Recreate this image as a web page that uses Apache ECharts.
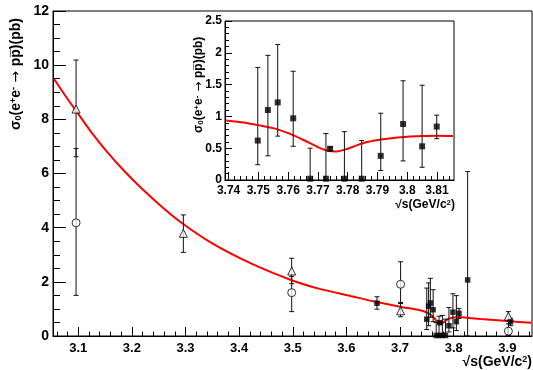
<!DOCTYPE html>
<html>
<head>
<meta charset="utf-8">
<script src="https://cdn.jsdelivr.net/npm/echarts@6/dist/echarts.min.js"></script>
<style>
  html, body { margin: 0; padding: 0; background: #fff; }
  #chart { width: 533px; height: 370px; }
</style>
</head>
<body>
<div id="chart"></div>
<script>
// open triangles (main plot)
const triX = [3.096, 3.296, 3.498, 3.701, 3.902];
const triY = [8.38, 3.79, 2.40, 0.93, 0.73];
const triLo = [6.62, 3.09, 1.93, 0.71, 0.55];
const triHi = [10.19, 4.47, 2.87, 1.24, 0.90];

// open circles (main plot)
const circX = [3.096, 3.498, 3.701, 3.902];
const circY = [4.18, 1.60, 1.91, 0.18];
const circLo = [1.50, 0.90, 1.20, 0.02];
const circHi = [6.92, 2.20, 2.74, 0.45];

// filled squares near psi(3770) (inset and main)
const sqX = [3.7498, 3.7532, 3.7565, 3.7617, 3.7674, 3.7727, 3.7741, 3.7789, 3.7847, 3.7911, 3.7986, 3.8050, 3.8099];
const sqY = [0.62, 1.10, 1.22, 0.97, 0.02, 0.02, 0.49, 0.02, 0.02, 0.38, 0.88, 0.53, 0.84];
const sqLo = [0.24, 0.38, 0.69, 0.53, 0.00, 0.00, 0.46, 0.00, 0.00, 0.15, 0.30, 0.20, 0.65];
const sqHi = [1.77, 1.96, 2.13, 1.71, 0.50, 0.73, 0.52, 0.76, 0.62, 1.05, 1.56, 1.49, 1.02];

// filled squares only in the main plot
const sqExtraX = [3.657, 3.826, 3.906];
const sqExtraY = [1.21, 2.07, 0.52];
const sqExtraLo = [0.99, 0.00, 0.38];
const sqExtraHi = [1.45, 6.07, 0.66];

// fit curve, main plot
const curveX = [3.055, 3.075, 3.100, 3.125, 3.153, 3.185, 3.215, 3.252, 3.290, 3.350, 3.420, 3.498, 3.550, 3.607, 3.650, 3.700, 3.739, 3.750, 3.760, 3.770, 3.776, 3.780, 3.790, 3.800, 3.810, 3.816, 3.850, 3.900, 3.945];
const curveY = [9.49, 8.90, 8.20, 7.51, 6.82, 6.11, 5.51, 4.84, 4.22, 3.42, 2.70, 2.06, 1.74, 1.48, 1.28, 1.08, 0.94, 0.86, 0.74, 0.52, 0.45, 0.49, 0.63, 0.68, 0.70, 0.69, 0.63, 0.55, 0.49];

// fit curve, inset
const insetCurveX = [3.7392, 3.745, 3.750, 3.755, 3.760, 3.765, 3.770, 3.773, 3.7763, 3.7796, 3.783, 3.7869, 3.7908, 3.7953, 3.800, 3.805, 3.810, 3.8154];
const insetCurveY = [0.936, 0.905, 0.863, 0.816, 0.737, 0.633, 0.518, 0.465, 0.450, 0.486, 0.544, 0.600, 0.633, 0.659, 0.680, 0.690, 0.696, 0.690];

// axis ticks
const mainXTicks = [3.1, 3.2, 3.3, 3.4, 3.5, 3.6, 3.7, 3.8, 3.9];
const insetXTicks = [3.74, 3.75, 3.76, 3.77, 3.78, 3.79, 3.80, 3.81];

const FONT = 'Liberation Sans, Arial, sans-serif';

function minorTicks(lo, hi, step, majors) {
  const out = [];
  for (let v = Math.ceil(lo / step - 1e-9) * step; v <= hi + 1e-9; v += step) {
    const r = Math.round(v * 10000) / 10000;
    if (!majors.some(m => Math.abs(m - r) < 1e-6)) out.push(r);
  }
  return out;
}

const zip3 = (a, b, c) => a.map((v, i) => [v, b[i], c[i]]);
const zip2 = (a, b) => a.map((v, i) => [v, b[i]]);

function errRender(params, api) {
  const x = api.value(0);
  const top = api.coord([x, api.value(2)]);
  const bot = api.coord([x, api.value(1)]);
  const w = 2.5;
  const st = { stroke: '#111', lineWidth: 1 };
  return {
    type: 'group',
    children: [
      { type: 'line', shape: { x1: top[0], y1: top[1], x2: bot[0], y2: bot[1] }, style: st },
      { type: 'line', shape: { x1: top[0] - w, y1: top[1], x2: top[0] + w, y2: top[1] }, style: st },
      { type: 'line', shape: { x1: bot[0] - w, y1: bot[1], x2: bot[0] + w, y2: bot[1] }, style: st }
    ]
  };
}

function errSeries(xi, yi, data) {
  return {
    type: 'custom', xAxisIndex: xi, yAxisIndex: yi, renderItem: errRender,
    data: data, encode: { x: 0, y: [1, 2] }, z: 3, silent: true, clip: false
  };
}

const labelBold = (size) => ({ color: '#000', fontWeight: 'bold', fontSize: size, fontFamily: FONT });

const chart = echarts.init(document.getElementById('chart'), null, { renderer: 'canvas' });

const titleRich = (size, sm) => ({
  b: { fontSize: size, fontWeight: 'bold', fontFamily: FONT, color: '#000' },
  sub: { fontSize: sm, fontWeight: 'bold', fontFamily: FONT, color: '#000', verticalAlign: 'bottom' },
  sup: { fontSize: sm, fontWeight: 'bold', fontFamily: FONT, color: '#000', verticalAlign: 'top' },
  n: { fontSize: size, fontFamily: 'DejaVu Sans', color: '#000' }
});

const yTitle = '{b|σ}{sub|0}{b|(e}{sup|+}{b|e}{sup|-}{n| → }{b|pp\u0305)(pb)}';
const xTitle = '{b|√s(GeV/c}{sup|2}{b|)}';

const option = {
  animation: false,
  backgroundColor: '#fff',
  grid: [
    { left: 53, right: 1, top: 11, bottom: 34, show: true, borderColor: '#000', borderWidth: 1 },
    { left: 225, width: 229, top: 21, height: 159, show: true, borderColor: '#000', borderWidth: 1 }
  ],
  xAxis: [
    {
      gridIndex: 0, type: 'value', position: 'bottom', min: 3.053, max: 3.946,
      axisLine: { lineStyle: { color: '#000' } },
      axisTick: { inside: true, length: 9, customValues: mainXTicks, lineStyle: { color: '#000' } },
      axisLabel: Object.assign({ customValues: mainXTicks, margin: 6, formatter: v => v.toFixed(1) }, labelBold(13)),
      splitLine: { show: false }
    },
    {
      gridIndex: 0, type: 'value', position: 'bottom', min: 3.053, max: 3.946,
      axisLine: { show: false },
      axisTick: { inside: true, length: 4.5, customValues: minorTicks(3.053, 3.946, 0.02, mainXTicks), lineStyle: { color: '#000' } },
      axisLabel: { show: false },
      splitLine: { show: false }
    },
    {
      gridIndex: 1, type: 'value', position: 'bottom', min: 3.7388, max: 3.8157,
      axisLine: { lineStyle: { color: '#000' } },
      axisTick: { inside: true, length: 8, customValues: insetXTicks, lineStyle: { color: '#000' } },
      axisLabel: Object.assign({ customValues: insetXTicks, margin: 5, formatter: v => String(parseFloat(v.toFixed(2))) }, labelBold(12)),
      splitLine: { show: false }
    },
    {
      gridIndex: 1, type: 'value', position: 'bottom', min: 3.7388, max: 3.8157,
      axisLine: { show: false },
      axisTick: { inside: true, length: 4, customValues: minorTicks(3.7388, 3.8157, 0.002, insetXTicks), lineStyle: { color: '#000' } },
      axisLabel: { show: false },
      splitLine: { show: false }
    }
  ],
  yAxis: [
    {
      gridIndex: 0, type: 'value', min: 0, max: 12, interval: 2,
      axisLine: { lineStyle: { color: '#000' } },
      axisTick: { inside: true, length: 13, lineStyle: { color: '#000' } },
      minorTick: { show: true, splitNumber: 4, length: 7, lineStyle: { color: '#000' } },
      axisLabel: Object.assign({ margin: 4 }, labelBold(14)),
      splitLine: { show: false }
    },
    {
      gridIndex: 1, type: 'value', min: 0, max: 2.5, interval: 0.5,
      axisLine: { lineStyle: { color: '#000' } },
      axisTick: { inside: true, length: 7, lineStyle: { color: '#000' } },
      minorTick: { show: true, splitNumber: 5, length: 4, lineStyle: { color: '#000' } },
      axisLabel: Object.assign({ margin: 3 }, labelBold(12)),
      splitLine: { show: false }
    }
  ],
  graphic: [
    { type: 'text', x: 16, y: 130, rotation: Math.PI / 2, style: { text: yTitle, rich: titleRich(14, 9), align: 'left', verticalAlign: 'middle' } },
    { type: 'text', x: 532, y: 362, style: { text: xTitle, rich: titleRich(14, 9), align: 'right', verticalAlign: 'middle' } },
    { type: 'text', x: 199, y: 133, rotation: Math.PI / 2, style: { text: yTitle, rich: titleRich(12, 8), align: 'left', verticalAlign: 'middle' } },
    { type: 'text', x: 455, y: 205, style: { text: xTitle, rich: titleRich(12, 8), align: 'right', verticalAlign: 'middle' } }
  ],
  series: [
    {
      type: 'line', xAxisIndex: 0, yAxisIndex: 0, data: zip2(curveX, curveY),
      smooth: 0.2, showSymbol: false, lineStyle: { color: '#ff0000', width: 2 }, z: 2, silent: true
    },
    errSeries(0, 0, zip3(triX, triLo, triHi)),
    errSeries(0, 0, zip3(circX, circLo, circHi)),
    errSeries(0, 0, zip3(sqX, sqLo, sqHi)),
    errSeries(0, 0, zip3(sqExtraX, sqExtraLo, sqExtraHi)),
    {
      type: 'scatter', xAxisIndex: 0, yAxisIndex: 0, data: zip2(triX, triY), symbol: 'triangle', symbolSize: 8,
      itemStyle: { color: '#fff', borderColor: '#000', borderWidth: 1 }, z: 4, clip: false
    },
    {
      type: 'scatter', xAxisIndex: 0, yAxisIndex: 0, data: zip2(circX, circY), symbol: 'circle', symbolSize: 8,
      itemStyle: { color: '#fff', borderColor: '#000', borderWidth: 1 }, z: 4, clip: false
    },
    {
      type: 'scatter', xAxisIndex: 0, yAxisIndex: 0, data: zip2(sqX.concat(sqExtraX), sqY.concat(sqExtraY)), symbol: 'rect', symbolSize: 5.5,
      itemStyle: { color: '#000' }, z: 4, clip: false
    },
    {
      type: 'line', xAxisIndex: 2, yAxisIndex: 1, data: zip2(insetCurveX, insetCurveY),
      smooth: 0.2, showSymbol: false, lineStyle: { color: '#ff0000', width: 2 }, z: 2, silent: true
    },
    errSeries(2, 1, zip3(sqX, sqLo, sqHi)),
    {
      type: 'scatter', xAxisIndex: 2, yAxisIndex: 1, data: zip2(sqX, sqY), symbol: 'rect', symbolSize: 6,
      itemStyle: { color: '#000' }, z: 4, clip: false
    }
  ]
};

chart.setOption(option);
</script>
</body>
</html>
